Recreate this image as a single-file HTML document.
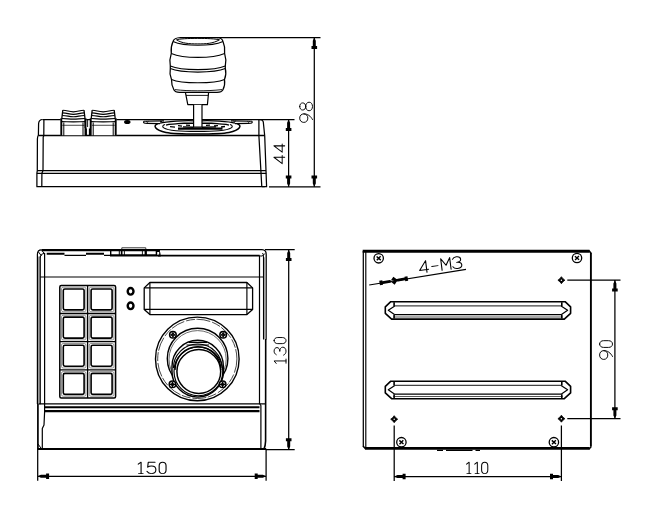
<!DOCTYPE html>
<html><head><meta charset="utf-8"><title>Dimension drawing</title>
<style>html,body{margin:0;padding:0;background:#fff;font-family:"Liberation Sans",sans-serif;}svg{display:block}</style>
</head><body>
<svg width="650" height="518" viewBox="0 0 650 518">
<rect width="650" height="518" fill="#fff"/>
<g fill="none" stroke="#000" stroke-width="1.25" stroke-linejoin="round">
<path d="M42.5 119.5 L259 119.5"/>
<path d="M42.5 119.5 Q39 119.6 38.6 123.5 L38.4 135 Q37.5 136.5 37.4 139 L37.3 170.6 L36.9 173.2 L36.9 186.7 L264.8 186.7"/>
<path d="M43.9 119.5 L43.8 135.7 L43.2 137 L43 170.6 L41.9 173.3 L41.8 186.7"/>
<path d="M38.4 135.6 L264.7 135.6" stroke-width="1.5"/>
<path d="M37.3 170.6 L266 170.6 M36.9 173.3 L266.3 173.3" stroke-width="1.35"/>
<path d="M258.9 119.5 L258.9 135.7 L261.8 186.7"/>
<path d="M259 119.5 Q262.8 119.6 263.3 122 L264.7 135.7 L266.6 186.7 L261.8 186.7"/>
<path d="M60.6 135.2 L60.6 118.5 L62.2 110 L84.60000000000001 110 L86.2 118.5 L86.2 135.2 Z" fill="#fff" stroke="none"/>
<path d="M61.300000000000004 135.7 L61.300000000000004 118.2 M85.5 135.7 L85.5 118.2" stroke-width="1.9"/>
<path d="M61.800000000000004 118.5 L62.800000000000004 110.2 M85.0 118.5 L84.0 110.2" stroke-width="1.3"/>
<path d="M62.800000000000004 110.3 C67.6 110.39999999999999 68.6 111.8 73.4 111.8 C78.2 111.8 79.2 110.39999999999999 84.0 110.3" stroke-width="1.15"/>
<path d="M62.5 112.9 C67.6 113.0 68.6 114.30000000000001 73.4 114.30000000000001 C78.2 114.30000000000001 79.2 113.0 84.3 112.9" stroke-width="1.15"/>
<path d="M62.2 115.5 C67.6 115.6 68.6 116.7 73.4 116.7 C78.2 116.7 79.2 115.6 84.60000000000001 115.5" stroke-width="1.15"/>
<path d="M61.800000000000004 118.5 C67.6 118.6 68.6 119.1 73.4 119.1 C78.2 119.1 79.2 118.6 85.0 118.5" stroke-width="1.15"/>
<path d="M61.6 121.6 C67.6 121.69999999999999 68.6 121.8 73.4 121.8 C78.2 121.8 79.2 121.69999999999999 85.2 121.6" stroke-width="1.15"/>
<path d="M62.1 125.3 L84.7 125.3" stroke-width="1.1" stroke="#555"/>
<path d="M63.800000000000004 122.5 L63.800000000000004 135.7 M83.0 122.5 L83.0 135.7" stroke-width="1"/>
<path d="M90.0 135.2 L90.0 118.5 L91.6 110 L114.80000000000001 110 L116.4 118.5 L116.4 135.2 Z" fill="#fff" stroke="none"/>
<path d="M90.7 135.7 L90.7 118.2 M115.7 135.7 L115.7 118.2" stroke-width="1.9"/>
<path d="M91.2 118.5 L92.2 110.2 M115.2 118.5 L114.2 110.2" stroke-width="1.3"/>
<path d="M92.2 110.3 C97.0 110.39999999999999 98.0 111.8 103.2 111.8 C108.4 111.8 109.4 110.39999999999999 114.2 110.3" stroke-width="1.15"/>
<path d="M91.9 112.9 C97.0 113.0 98.0 114.30000000000001 103.2 114.30000000000001 C108.4 114.30000000000001 109.4 113.0 114.5 112.9" stroke-width="1.15"/>
<path d="M91.6 115.5 C97.0 115.6 98.0 116.7 103.2 116.7 C108.4 116.7 109.4 115.6 114.80000000000001 115.5" stroke-width="1.15"/>
<path d="M91.2 118.5 C97.0 118.6 98.0 119.1 103.2 119.1 C108.4 119.1 109.4 118.6 115.2 118.5" stroke-width="1.15"/>
<path d="M91.0 121.6 C97.0 121.69999999999999 98.0 121.8 103.2 121.8 C108.4 121.8 109.4 121.69999999999999 115.4 121.6" stroke-width="1.15"/>
<path d="M91.5 125.3 L114.9 125.3" stroke-width="1.1" stroke="#555"/>
<path d="M93.2 122.5 L93.2 135.7 M113.2 122.5 L113.2 135.7" stroke-width="1"/>
<path d="M85 119 L85 128 M87.6 119 L87.6 127 M90.6 119 L90.6 128" stroke-width="0.9"/>
<path d="M86 128.5 L86 135.7 M89.8 128.5 L89.8 135.7" stroke-width="1.8"/>
<ellipse cx="127.3" cy="121.9" rx="2.6" ry="1.4" fill="#000"/>
<path d="M180.5 37.5 L217 37.5 C220.5 37.7 222.3 39 223 41.5 Q225.4 47 224.6 53.4 Q226.6 59.5 225.3 66 L225.3 68.4 Q226.7 74 224.5 79.5 Q225.4 85 222.8 90 C222 91.5 220 92.2 217 92.4 L179.5 92.4 C176.5 92.2 174.8 91.5 174 90 Q171.3 85 171.5 79.5 Q169.2 74 170.3 68.4 L170.3 66 Q169.2 59.5 171.3 53.4 Q170.5 47 173 41.5 C173.8 39 176 37.7 180.5 37.5 Z" fill="#fff" stroke-width="1.25"/>
<path d="M176.5 39.8 C182 37.9 213 37.9 219.5 39.8 C213 43.6 206 43.9 197.8 43.9 C189 43.9 182 43.4 176.5 39.8" stroke-width="1"/>
<path d="M173 41.5 C178 43.7 187 45.3 197.8 45.3 C209 45.3 218 43.7 223 41.5" stroke-width="1.05"/>
<path d="M171.3 53.4 C176.3 55.6 185.3 57.4 197.8 57.4 C210.6 57.4 219.6 55.6 224.6 53.4" stroke-width="1.1"/>
<path d="M170.3 66 C175.3 68.2 184.3 69.6 197.8 69.6 C211.3 69.6 220.3 68.2 225.3 66" stroke-width="1.1"/>
<path d="M170.3 68.6 C175.3 70.8 184.3 72.1 197.8 72.1 C211.3 72.1 220.3 70.8 225.3 68.6" stroke-width="1.1"/>
<path d="M171.5 79.5 C176.5 81.7 185.5 82.8 197.8 82.8 C210.5 82.8 219.5 81.7 224.5 79.5" stroke-width="1.1"/>
<path d="M174.8 89.6 C182 90.5 190 90.8 197.8 90.8 C206 90.8 214 90.5 222 89.6" stroke-width="0.9"/>
<path d="M185.4 92.4 L187.8 104.7 L207.4 104.7 L208.6 92.4" stroke-width="1.2"/>
<path d="M186 95.4 L208.3 95.4" stroke-width="0.9"/>
<path d="M143.8 121.3 C143 123 144.2 123.4 147.2 123.4 L160 123.6 M235 123.6 L248.6 123.4 C251.6 123.4 252.8 123 252 121.3" stroke-width="1.2"/>
<path d="M143.8 121.3 L164 120.9 M231 120.9 L252 121.3" stroke-width="1.1"/>
<path d="M146.2 121.4 q1.1 1.7 2.2 0 M247.5 121.4 q1.1 1.7 2.2 0 M160 121 q1.1 1.6 2.2 0 M233.5 121 q1.1 1.6 2.2 0" stroke-width="1"/>
<path d="M158 123.6 C152.5 125.5 154.5 130 166 132.4 C176 134.4 219 134.4 229 132.4 C240.5 130 242.5 125.5 237 123.6" stroke-width="1.5"/>
<path d="M165 124.6 C160 126.4 163 129.4 176 130.7 C186 131.6 209 131.6 219 130.7 C232 129.4 235 126.4 230 124.6" stroke-width="1.1"/>
<path d="M160 123.2 C166 121.2 186 120.4 193.6 120.8 M202 120.8 C210 120.4 229 121.2 235 123.2" stroke-width="1.3"/>
<path d="M166 125.2 C170 123.4 174 124.6 178 123.6 C182 122.8 188 123.6 193.6 123.2 M202 123.2 C208 123.6 213 122.8 217 123.6 C221 124.6 225 123.4 229 125.2" stroke-width="1.4"/>
<path d="M170 126.6 l5 0.5 M178 125.6 l4 0.5 M186 125.2 l4 0.2 M206 125.4 l4 -0.2 M214 126 l4 -0.4 M221 127 l4 -0.5" stroke-width="1.3"/>
<path d="M178 128.6 L222.5 128.6" stroke-width="2.4"/>
<path d="M183 126.9 L193.6 127.2 M202 127.2 L216 126.9" stroke-width="1.4"/>
<path d="M193.6 104.8 L193.6 127.2 L202 127.2 L202 104.8" fill="#fff" stroke-width="1.2"/>
</g>
<g fill="none" stroke="#000" stroke-width="1.25">
<path d="M217 37.5 L320.5 37.5"/>
<path d="M259 119.5 L294.5 119.5"/>
<path d="M269 186.8 L320.5 186.8"/>
<path d="M314.3 37.5 L314.3 186.8"/>
<path d="M288.6 119.5 L288.6 186.8"/>
</g>
<path transform="translate(314.3 37.5) rotate(-90)" d="M0 0 L-3.2 -1.5 L-8.4 -1.5 L-8.4 -2.8 L-11.4 -2.8 L-11.4 2.8 L-8.4 2.8 L-8.4 1.5 L-3.2 1.5 Z" fill="#000"/>
<path transform="translate(314.3 186.8) rotate(90)" d="M0 0 L-3.2 -1.5 L-8.4 -1.5 L-8.4 -2.8 L-11.4 -2.8 L-11.4 2.8 L-8.4 2.8 L-8.4 1.5 L-3.2 1.5 Z" fill="#000"/>
<path transform="translate(288.6 119.5) rotate(-90)" d="M0 0 L-3.2 -1.5 L-8.4 -1.5 L-8.4 -2.8 L-11.4 -2.8 L-11.4 2.8 L-8.4 2.8 L-8.4 1.5 L-3.2 1.5 Z" fill="#000"/>
<path transform="translate(288.6 186.8) rotate(90)" d="M0 0 L-3.2 -1.5 L-8.4 -1.5 L-8.4 -2.8 L-11.4 -2.8 L-11.4 2.8 L-8.4 2.8 L-8.4 1.5 L-3.2 1.5 Z" fill="#000"/>
<g transform="translate(312.5 122.4) rotate(-90) scale(1.4222222222222223 1.4222222222222223) translate(0 -9)" fill="none" stroke="#000" stroke-width="0.668" stroke-linecap="round" stroke-linejoin="round"><path transform="translate(0 0)" d="M6 2.9 C6 4.6 4.8 5.7 3 5.7 C1.2 5.7 0 4.6 0 2.9 C0 1.2 1.2 0 3 0 C4.8 0 6 1.2 6 2.9 C6 5.6 4.6 7.6 2 9"/><path transform="translate(8.2 0)" d="M3 0 C1.4 0 0.5 0.9 0.5 2.1 C0.5 3.4 1.5 4.2 3 4.2 C4.5 4.2 5.5 3.4 5.5 2.1 C5.5 0.9 4.6 0 3 0 Z M3 4.2 C1.2 4.2 0 5.2 0 6.6 C0 8 1.2 9 3 9 C4.8 9 6 8 6 6.6 C6 5.2 4.8 4.2 3 4.2 Z"/></g>
<g transform="translate(284.7 163.6) rotate(-90) scale(1.3440000000000003 1.2000000000000002) translate(0 -9)" fill="none" stroke="#000" stroke-width="0.792" stroke-linecap="round" stroke-linejoin="round"><path transform="translate(0 0)" d="M4.7 9 L4.7 0 L0 6.9 L6 6.9"/><path transform="translate(8.5 0)" d="M4.7 9 L4.7 0 L0 6.9 L6 6.9"/></g>
<g fill="none" stroke="#000" stroke-width="1.2" stroke-linejoin="round">
<path d="M41.5 250.1 L160 250.1" stroke-width="2.3"/>
<path d="M160 249.7 L262 249.7" stroke-width="1.3"/>
<path d="M41.5 249.8 Q37.4 249.8 37.4 254.5 L37.4 404" stroke-width="1.2"/>
<path d="M37.9 404 L37.9 449" stroke-width="1.7"/>
<path d="M38 444 L41.5 448.8" stroke-width="1"/>
<path d="M262 249.7 Q266.2 249.8 266.2 254.5 L266.1 339.5" stroke-width="1.3"/>
<path d="M265.7 339 L265.6 441 Q265.4 446 264 449" stroke-width="1.6"/>
<path d="M37.5 449.1 L266.2 449.1" stroke-width="2"/>
<path d="M44.5 253.2 Q40.3 253.6 40.1 257.5 M38.5 252 L41.5 256 M42 250.5 L44.5 254 M262.5 253 Q263.6 254 263.5 257.5 M259.5 255.4 Q262 257.5 264.8 253.5" stroke-width="1"/>
<path d="M40.1 256.5 L40.1 404.3" stroke-width="1.5"/>
<path d="M38.7 256.5 L38.7 404" stroke="#999" stroke-width="1.4"/>
<path d="M44.6 253 L44.6 412 L44 425 L42.3 428.5 L42.3 448.5"/>
<path d="M259.5 255.4 L259.5 403.5 L260.9 405.5 L260.9 448.5" stroke-width="1.2"/>
<path d="M263.6 257 L263.6 339.5" stroke-width="1.3"/>
<path d="M264.9 258 L264.9 339" stroke="#999" stroke-width="1.4"/>
<path d="M46.7 253.8 L64.5 253.8 M86 253.8 L104 253.8" stroke-width="2.1"/>
<path d="M64.5 255.3 L86 255.3 M104 255.3 L110.5 255.3" stroke-width="1.3"/>
<path d="M110 249.2 L157 249.2 Q160.8 250 160.8 256.4 L110 256.4 Z" fill="#000" stroke="none"/>
<path d="M111.4 251.2 L118.8 251.2 L118.8 254.3 L111.4 254.3 Z M119.8 251.2 L120.8 251.2 L120.8 254.3 L119.8 254.3 Z M122.5 251.2 L123.9 251.2 L123.9 254.3 L122.5 254.3 Z M124.8 251.2 L141.9 251.2 L141.9 254.3 L124.8 254.3 Z M142.8 251.2 L144.6 251.2 L144.6 254.3 L142.8 254.3 Z M146.9 251.2 L155.7 251.2 L155.7 254.3 L146.9 254.3 Z M157.2 252 L159.2 252 L159.2 254.8 L157.2 254.8 Z " fill="#fff" stroke="none"/>
<path d="M121.8 249.2 L121.8 247.8 L145.8 247.8 L145.8 249.2" stroke-width="0.9" stroke="#222"/>
<path d="M158 255.6 L259.5 255.6" stroke-width="1.7"/>
<path d="M40.3 277 L263.5 277" stroke-width="1.1"/>
<path d="M38.6 403.9 L265.5 403.9" stroke-width="1.2"/>
<path d="M44.6 407.3 L259.5 407.3" stroke-width="2"/>
<path d="M44.6 411.2 L259.5 411.2" stroke-width="2.2"/>
<rect x="59.8" y="285.4" width="55.8" height="112.60000000000002" rx="1.5" stroke-width="1.5"/>
<rect x="63.3" y="289.0" width="20.799999999999997" height="20.900000000000023" rx="1.6" stroke-width="1.6"/>
<rect x="61.5" y="287.2" width="24.4" height="24.50000000000002" rx="1.6" stroke-width="0.8" stroke="#777"/>
<rect x="91.1" y="289.0" width="21.0" height="20.900000000000023" rx="1.6" stroke-width="1.6"/>
<rect x="89.3" y="287.2" width="24.6" height="24.50000000000002" rx="1.6" stroke-width="0.8" stroke="#777"/>
<rect x="63.3" y="317.1" width="20.799999999999997" height="20.99999999999999" rx="1.6" stroke-width="1.6"/>
<rect x="61.5" y="315.3" width="24.4" height="24.599999999999987" rx="1.6" stroke-width="0.8" stroke="#777"/>
<rect x="91.1" y="317.1" width="21.0" height="20.99999999999999" rx="1.6" stroke-width="1.6"/>
<rect x="89.3" y="315.3" width="24.6" height="24.599999999999987" rx="1.6" stroke-width="0.8" stroke="#777"/>
<rect x="63.3" y="345.3" width="20.799999999999997" height="20.900000000000023" rx="1.6" stroke-width="1.6"/>
<rect x="61.5" y="343.5" width="24.4" height="24.50000000000002" rx="1.6" stroke-width="0.8" stroke="#777"/>
<rect x="91.1" y="345.3" width="21.0" height="20.900000000000023" rx="1.6" stroke-width="1.6"/>
<rect x="89.3" y="343.5" width="24.6" height="24.50000000000002" rx="1.6" stroke-width="0.8" stroke="#777"/>
<rect x="63.3" y="373.40000000000003" width="20.799999999999997" height="20.99999999999999" rx="1.6" stroke-width="1.6"/>
<rect x="61.5" y="371.6" width="24.4" height="24.599999999999987" rx="1.6" stroke-width="0.8" stroke="#777"/>
<rect x="91.1" y="373.40000000000003" width="21.0" height="20.99999999999999" rx="1.6" stroke-width="1.6"/>
<rect x="89.3" y="371.6" width="24.6" height="24.599999999999987" rx="1.6" stroke-width="0.8" stroke="#777"/>
<path d="M59.8 313.5 L115.6 313.5" stroke-width="1.3"/>
<path d="M59.8 341.7 L115.6 341.7" stroke-width="1.3"/>
<path d="M59.8 369.8 L115.6 369.8" stroke-width="1.3"/>
<path d="M87.6 285.4 L87.6 398.0" stroke-width="1.3"/>
<ellipse cx="130.6" cy="291.3" rx="2.9" ry="3.3" stroke-width="2.4"/>
<ellipse cx="130.6" cy="305.8" rx="2.9" ry="3.3" stroke-width="2.4"/>
<path d="M149.9 282.5 L246.9 282.5 L252.6 287.9 L252.6 309.4 L246.9 314.6 L149.9 314.6 L144.2 309.4 L144.2 287.9 Z" stroke-width="1.3"/>
<path d="M149.9 282.5 L149.9 314.6 M246.9 282.5 L246.9 314.6 M144.2 287.9 L252.6 287.9 M144.2 309.4 L252.6 309.4" stroke-width="1.15"/>
<circle cx="197.3" cy="358.9" r="41.8" stroke-width="1.4"/>
<circle cx="197.3" cy="358.9" r="39.6" stroke-width="0.9" stroke="#333" stroke-dasharray="14 2 9 1.5"/>
<circle cx="197.6" cy="358.6" r="30.3" stroke-width="1.4"/>
<circle cx="197.6" cy="359.2" r="28.6" stroke-width="0.8" stroke="#444"/>
<path d="M172 371.4 L172 366.3 A25.7 26 0 0 1 223.4 366.3 L223.4 371.4 A25.7 25.7 0 0 1 172 371.4 Z" fill="#fff" stroke-width="1.4"/>
<path d="M188.5 342.4 L207 342.4" stroke-width="1.3"/>
<path d="M173.4 368 A24.3 24 0 0 1 222 368" stroke-width="1.1"/>
<path d="M175 370 A22.9 23.2 0 0 1 220.8 370" stroke-width="1.4"/>
<path d="M186.5 345 L209 345" stroke-width="1"/>
<circle cx="198.4" cy="371.4" r="24.4" stroke-width="1.2"/>
<circle cx="198.8" cy="371.5" r="21.9" stroke-width="1.5"/>
<circle cx="172.9" cy="334.8" r="3.3" fill="#fff" stroke-width="1.5"/>
<path d="M170.3 334.8 L175.5 334.8 M172.9 332.2 L172.9 337.40000000000003" stroke-width="1.3"/>
<circle cx="172.9" cy="334.8" r="1.5" stroke-width="0.9"/>
<circle cx="223.2" cy="334.8" r="3.3" fill="#fff" stroke-width="1.5"/>
<path d="M220.6 334.8 L225.79999999999998 334.8 M223.2 332.2 L223.2 337.40000000000003" stroke-width="1.3"/>
<circle cx="223.2" cy="334.8" r="1.5" stroke-width="0.9"/>
<circle cx="172.5" cy="384.3" r="3.3" fill="#fff" stroke-width="1.5"/>
<path d="M169.9 384.3 L175.1 384.3 M172.5 381.7 L172.5 386.90000000000003" stroke-width="1.3"/>
<circle cx="172.5" cy="384.3" r="1.5" stroke-width="0.9"/>
<circle cx="222.6" cy="384.3" r="3.3" fill="#fff" stroke-width="1.5"/>
<path d="M220.0 384.3 L225.2 384.3 M222.6 381.7 L222.6 386.90000000000003" stroke-width="1.3"/>
<circle cx="222.6" cy="384.3" r="1.5" stroke-width="0.9"/>
</g>
<g fill="none" stroke="#000" stroke-width="1.25">
<path d="M265 249.7 L294.7 249.7 M266 449.7 L294.7 449.7 M288.7 249.7 L288.7 449.7"/>
<path d="M37.7 449 L37.7 480.7 M266.1 449 L266.1 480.7 M37.7 476.3 L266.1 476.3"/>
</g>
<path transform="translate(288.7 249.7) rotate(-90)" d="M0 0 L-3.2 -1.5 L-8.4 -1.5 L-8.4 -2.8 L-11.4 -2.8 L-11.4 2.8 L-8.4 2.8 L-8.4 1.5 L-3.2 1.5 Z" fill="#000"/>
<path transform="translate(288.7 449.7) rotate(90)" d="M0 0 L-3.2 -1.5 L-8.4 -1.5 L-8.4 -2.8 L-11.4 -2.8 L-11.4 2.8 L-8.4 2.8 L-8.4 1.5 L-3.2 1.5 Z" fill="#000"/>
<path transform="translate(37.7 476.3) rotate(180)" d="M0 0 L-3.2 -1.5 L-8.4 -1.5 L-8.4 -2.8 L-11.4 -2.8 L-11.4 2.8 L-8.4 2.8 L-8.4 1.5 L-3.2 1.5 Z" fill="#000"/>
<path transform="translate(266.1 476.3) rotate(0)" d="M0 0 L-3.2 -1.5 L-8.4 -1.5 L-8.4 -2.8 L-11.4 -2.8 L-11.4 2.8 L-8.4 2.8 L-8.4 1.5 L-3.2 1.5 Z" fill="#000"/>
<g transform="translate(286.0 365.7) rotate(-90) scale(1.3222222222222222 1.3222222222222222) translate(0 -9)" fill="none" stroke="#000" stroke-width="0.718" stroke-linecap="round" stroke-linejoin="round"><path transform="translate(0 0)" d="M1.7 1.6 L3.6 0 L3.6 9 M1.9 9 L5 9"/><path transform="translate(8.0 0)" d="M0.3 1.6 C0.9 0.5 1.9 0 3 0 C4.7 0 5.7 0.9 5.7 2.2 C5.7 3.5 4.6 4.3 2.8 4.3 C4.8 4.3 6 5.2 6 6.6 C6 8 4.8 9 3 9 C1.5 9 0.5 8.3 0 7.2"/><path transform="translate(16.0 0)" d="M3 0 C1.6 0 0.7 1.1 0.7 2.8 L0.7 6.2 C0.7 7.9 1.6 9 3 9 C4.4 9 5.3 7.9 5.3 6.2 L5.3 2.8 C5.3 1.1 4.4 0 3 0 Z"/></g>
<g transform="translate(135.7 473.6) rotate(0) scale(1.4946666666666666 1.2666666666666666) translate(0 -9)" fill="none" stroke="#000" stroke-width="0.750" stroke-linecap="round" stroke-linejoin="round"><path transform="translate(0 0)" d="M1.7 1.6 L3.6 0 L3.6 9 M1.9 9 L5 9"/><path transform="translate(7.5 0)" d="M5.5 0 L0.9 0 L0.5 4 C1.2 3.3 2.1 3 3.1 3 C4.9 3 6 4.2 6 6 C6 7.8 4.8 9 3 9 C1.6 9 0.6 8.3 0 7.2"/><path transform="translate(15.0 0)" d="M3 0 C1.6 0 0.7 1.1 0.7 2.8 L0.7 6.2 C0.7 7.9 1.6 9 3 9 C4.4 9 5.3 7.9 5.3 6.2 L5.3 2.8 C5.3 1.1 4.4 0 3 0 Z"/></g>
<g fill="none" stroke="#000" stroke-width="1.2" stroke-linejoin="round">
<path d="M362.7 251.3 L589.5 251.3" stroke-width="2.9"/>
<path d="M365 448.4 L589.5 448.4" stroke-width="2.9"/>
<path d="M590.9 253 L590.9 446.5" stroke-width="1.9"/>
<path d="M588.8 250.6 L591.3 253.4 M588.8 449.2 L591.3 446.4 M363 446 L365.5 448.8" stroke-width="1.5"/>
<path d="M363.3 251 L363.3 446.5" stroke-width="1.25"/>
<path d="M365.8 252 L365.8 447.5" stroke-width="1.15"/>
<path d="M437 450.4 L443 450.4 M446 450.4 L472.5 450.4 M475.5 450.4 L480 450.4" stroke-width="1.4"/>
<path d="M390.8 301.7 L565.1 301.7 L570.6 306.9 L570.6 313.3 L564.3000000000001 319.1 L391.6 319.1 L385.3 313.3 L385.3 306.9 Z" stroke-width="1.6"/>
<path d="M394.8 305.9 L561.1 305.9" stroke="#444" stroke-width="1.1"/>
<path d="M394.8 314.7 L561.1 314.7" stroke-width="1.25"/>
<path d="M393.3 317.0 L562.6 317.0" stroke="#555" stroke-width="1"/>
<path d="M394.8 305.9 L388.3 310.2 L394.8 314.7 M561.1 305.9 L567.6 310.2 L561.1 314.7" stroke-width="1.2"/>
<path d="M394.1 302.2 L394.1 305.9 M394.1 314.7 L394.1 318.6 M561.8000000000001 302.2 L561.8000000000001 305.9 M561.8000000000001 314.7 L561.8000000000001 318.6" stroke-width="1.6"/>
<path d="M390.8 381.2 L565.1 381.2 L570.6 386.4 L570.6 392.9 L564.3000000000001 398.7 L391.6 398.7 L385.3 392.9 L385.3 386.4 Z" stroke-width="1.6"/>
<path d="M394.8 385.4 L561.1 385.4" stroke="#444" stroke-width="1.1"/>
<path d="M394.8 394.2 L561.1 394.2" stroke-width="1.25"/>
<path d="M393.3 396.5 L562.6 396.5" stroke="#555" stroke-width="1"/>
<path d="M394.8 385.4 L388.3 389.7 L394.8 394.2 M561.1 385.4 L567.6 389.7 L561.1 394.2" stroke-width="1.2"/>
<path d="M394.1 381.7 L394.1 385.4 M394.1 394.2 L394.1 398.2 M561.8000000000001 381.7 L561.8000000000001 385.4 M561.8000000000001 394.2 L561.8000000000001 398.2" stroke-width="1.6"/>
<path d="M369.2 285 L466 269.3" stroke-width="1.2"/>
<path d="M567.3 280.2 L620.5 280.2 M567.3 418.6 L620.5 418.6 M614.9 280.2 L614.9 418.6" stroke-width="1.25"/>
<path d="M394.2 425.6 L394.2 481 M561.4 425.6 L561.4 481 M394.2 476.5 L561.4 476.5" stroke-width="1.25"/>
</g>
<circle cx="378.7" cy="258.3" r="4.7" fill="#fff" stroke="#000" stroke-width="1.3"/><path d="M376.59999999999997 256.5 L380.8 260.1 M376.8 260.3 L380.59999999999997 256.3" stroke="#000" stroke-width="1.4"/>
<circle cx="577" cy="258" r="4.7" fill="#fff" stroke="#000" stroke-width="1.3"/><path d="M574.9 256.2 L579.1 259.8 M575.1 260 L578.9 256" stroke="#000" stroke-width="1.4"/>
<circle cx="401.4" cy="442.2" r="4.7" fill="#fff" stroke="#000" stroke-width="1.3"/><path d="M399.29999999999995 440.4 L403.5 444.0 M399.5 444.2 L403.29999999999995 440.2" stroke="#000" stroke-width="1.4"/>
<circle cx="553.9" cy="442.2" r="4.7" fill="#fff" stroke="#000" stroke-width="1.3"/><path d="M551.8 440.4 L556.0 444.0 M552.0 444.2 L555.8 440.2" stroke="#000" stroke-width="1.4"/>
<path d="M561.4 276.7 L562.9499999999999 278.65 L564.9 280.2 L562.9499999999999 281.75 L561.4 283.7 L559.85 281.75 L557.9 280.2 L559.85 278.65 Z" fill="#000" stroke="#000" stroke-width="0.8" stroke-linejoin="round"/><circle cx="561.4" cy="280.2" r="0.75" fill="#fff"/>
<path d="M561.4 415.2 L562.9499999999999 417.15 L564.9 418.7 L562.9499999999999 420.25 L561.4 422.2 L559.85 420.25 L557.9 418.7 L559.85 417.15 Z" fill="#000" stroke="#000" stroke-width="0.8" stroke-linejoin="round"/><circle cx="561.4" cy="418.7" r="0.75" fill="#fff"/>
<path d="M394.2 415.7 L395.75 417.65 L397.7 419.2 L395.75 420.75 L394.2 422.7 L392.65 420.75 L390.7 419.2 L392.65 417.65 Z" fill="#000" stroke="#000" stroke-width="0.8" stroke-linejoin="round"/><circle cx="394.2" cy="419.2" r="0.75" fill="#fff"/>
<path transform="translate(614.9 280.2) rotate(-90)" d="M0 0 L-3.2 -1.5 L-8.4 -1.5 L-8.4 -2.8 L-11.4 -2.8 L-11.4 2.8 L-8.4 2.8 L-8.4 1.5 L-3.2 1.5 Z" fill="#000"/>
<path transform="translate(614.9 418.6) rotate(90)" d="M0 0 L-3.2 -1.5 L-8.4 -1.5 L-8.4 -2.8 L-11.4 -2.8 L-11.4 2.8 L-8.4 2.8 L-8.4 1.5 L-3.2 1.5 Z" fill="#000"/>
<path transform="translate(394.2 476.5) rotate(180)" d="M0 0 L-3.2 -1.5 L-8.4 -1.5 L-8.4 -2.8 L-11.4 -2.8 L-11.4 2.8 L-8.4 2.8 L-8.4 1.5 L-3.2 1.5 Z" fill="#000"/>
<path transform="translate(561.4 476.5) rotate(0)" d="M0 0 L-3.2 -1.5 L-8.4 -1.5 L-8.4 -2.8 L-11.4 -2.8 L-11.4 2.8 L-8.4 2.8 L-8.4 1.5 L-3.2 1.5 Z" fill="#000"/>
<g transform="translate(394 280.7) rotate(-9.3)"><path d="M0 0 L-4 -1.4 L-11.5 -1.4 L-11.5 -2.3 L-14.6 -2.3 L-14.6 2.3 L-11.5 2.3 L-11.5 1.4 L-4 1.4 Z M0 0 L4 -1.4 L11 -1.4 L11 -2.3 L14 -2.3 L14 2.3 L11 2.3 L11 1.4 L4 1.4 Z M-3.8 0 L0 -4 L3.8 0 L0 4 Z" fill="#000"/></g>
<g transform="translate(612.5 359.4) rotate(-90) scale(1.462 1.4333333333333333) translate(0 -9)" fill="none" stroke="#000" stroke-width="0.663" stroke-linecap="round" stroke-linejoin="round"><path transform="translate(0 0)" d="M6 2.9 C6 4.6 4.8 5.7 3 5.7 C1.2 5.7 0 4.6 0 2.9 C0 1.2 1.2 0 3 0 C4.8 0 6 1.2 6 2.9 C6 5.6 4.6 7.6 2 9"/><path transform="translate(7.5 0)" d="M3 0 C1.6 0 0.7 1.1 0.7 2.8 L0.7 6.2 C0.7 7.9 1.6 9 3 9 C4.4 9 5.3 7.9 5.3 6.2 L5.3 2.8 C5.3 1.1 4.4 0 3 0 Z"/></g>
<g transform="translate(464.3 473.6) rotate(0) scale(1.3426666666666667 1.2666666666666666) translate(0 -9)" fill="none" stroke="#000" stroke-width="0.750" stroke-linecap="round" stroke-linejoin="round"><path transform="translate(0 0)" d="M1.7 1.6 L3.6 0 L3.6 9 M1.9 9 L5 9"/><path transform="translate(6.1 0)" d="M1.7 1.6 L3.6 0 L3.6 9 M1.9 9 L5 9"/><path transform="translate(12.2 0)" d="M3 0 C1.6 0 0.7 1.1 0.7 2.8 L0.7 6.2 C0.7 7.9 1.6 9 3 9 C4.4 9 5.3 7.9 5.3 6.2 L5.3 2.8 C5.3 1.1 4.4 0 3 0 Z"/></g>
<g transform="translate(420.0 273.2) rotate(-7.2) scale(1.5077777777777777 1.3111111111111111) translate(0 -9)" fill="none" stroke="#000" stroke-width="0.725" stroke-linecap="round" stroke-linejoin="round"><path transform="translate(0 0)" d="M4.7 9 L4.7 0 L0 6.9 L6 6.9"/><path transform="translate(7.4 0)" d="M0.9 5 L5.1 5"/><path transform="translate(14.8 0)" d="M0 9 L0 0 L3 5.5 L6 0 L6 9"/><path transform="translate(22.200000000000003 0)" d="M0.3 1.6 C0.9 0.5 1.9 0 3 0 C4.7 0 5.7 0.9 5.7 2.2 C5.7 3.5 4.6 4.3 2.8 4.3 C4.8 4.3 6 5.2 6 6.6 C6 8 4.8 9 3 9 C1.5 9 0.5 8.3 0 7.2"/></g>
</svg>
</body></html>
